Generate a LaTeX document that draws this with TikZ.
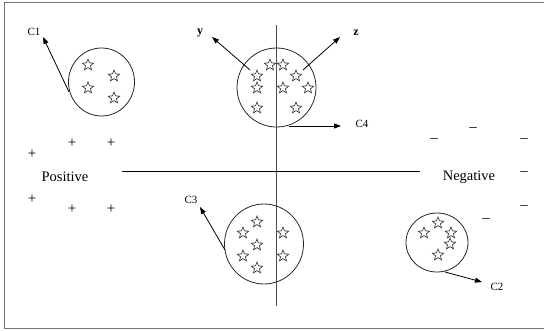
\documentclass[tikz,border=0pt]{standalone}
\usepackage{fontspec}
\setmainfont{Liberation Serif}
\usetikzlibrary{shapes.geometric,arrows.meta}
\begin{document}
\begin{tikzpicture}[x=1pt,y=-1pt,
  frame/.style={draw=black!55,line width=1.3pt},
  clus/.style={draw=black!85,ellipse,line width=0.8pt,inner sep=0pt},
  st/.style={draw=black!85,star,star points=5,star point ratio=2.3,minimum size=12pt,inner sep=0pt,line width=0.6pt},
  arr/.style={draw=black,line width=0.8pt,-{Triangle[length=7pt,width=5pt]}},
  lbl/.style={font=\fontsize{11}{12}\selectfont,inner sep=1.5pt},
  big/.style={font=\fontsize{14.5}{16}\selectfont,inner sep=1pt},
  sign/.style={font=\fontsize{15}{16}\selectfont,inner sep=0pt}]
\useasboundingbox (0,0) rectangle (544,330);
% frame (open at right)
\draw[frame] (544,2.7) -- (4.7,2.7) -- (4.7,328.5) -- (544,328.5);
% axes
\draw[draw=black!70,line width=0.9pt] (276,25) coordinate (vtop) -- (276,306) coordinate (vbot);
\draw[draw=black,line width=0.9pt] (122,171) coordinate (hl) -- (420,171) coordinate (hr);
% clusters
\node[clus,minimum width=66pt,minimum height=68pt] (c1) at (101.5,82) {};
\node[clus,minimum width=79pt,minimum height=79pt] (c4) at (276.5,87.5) {};
\node[clus,minimum width=79pt,minimum height=80pt] (c3) at (264,244) {};
\node[clus,minimum width=62pt,minimum height=59pt] (c2) at (437,242.5) {};
% stars
\foreach \p [count=\i] in {(88,65),(114,76),(88,88),(114,98)} \node[st] (sa\i) at \p {};
\foreach \p [count=\i] in {(270,65),(283,65),(257,76),(296,76),(257,88),(283,88),(308,88),(257,108),(296,108)} \node[st] (sb\i) at \p {};
\foreach \p [count=\i] in {(257,222),(243,233),(283,233),(257,245),(243,256),(283,256),(257,268)} \node[st] (sc\i) at \p {};
\foreach \p [count=\i] in {(438,223),(424,233),(451,233),(450,244),(438,255)} \node[st] (sd\i) at \p {};
% labels
\node[lbl] (lc1) at (34,32) {C1};
\node[lbl] (lc4) at (362,124) {C4};
\node[lbl] (lc3) at (191,200) {C3};
\node[lbl] (lc2) at (497,287) {C2};
\node[lbl,font=\fontsize{12}{13}\selectfont\bfseries] (ly) at (200,33) {y};
\node[lbl,font=\fontsize{12}{13}\selectfont\bfseries] (lz) at (356,33) {z};
\node[big] (pos) at (65,177) {Positive};
\node[big] (neg) at (469,177) {Negative};
% arrow start / end points
\coordinate (a1s) at (69,92);   \coordinate (a1e) at (43,37);
\coordinate (ays) at (250,70);  \coordinate (aye) at (212,37);
\coordinate (azs) at (303,70);  \coordinate (aze) at (340,37);
\coordinate (a4s) at (289,126); \coordinate (a4e) at (341,126);
\coordinate (a3s) at (225,250); \coordinate (a3e) at (200,207);
\coordinate (a2s) at (445,272); \coordinate (a2e) at (482,282);
\draw[arr] (a1s) -- (a1e);
\draw[arr] (ays) -- (aye);
\draw[arr] (azs) -- (aze);
\draw[arr] (a4s) -- (a4e);
\draw[arr] (a3s) -- (a3e);
\draw[arr] (a2s) -- (a2e);
% plus signs
\foreach \p [count=\i] in {(32,154),(72,143),(111,143),(32,199),(72,209),(111,209)} \node[sign] (pl\i) at \p {+};
% minus signs
\foreach \p [count=\i] in {(434,141),(473,130),(524,141),(524,174),(524,208),(486,221)} \node[sign] (mn\i) at \p {–};
\end{tikzpicture}
\end{document}
